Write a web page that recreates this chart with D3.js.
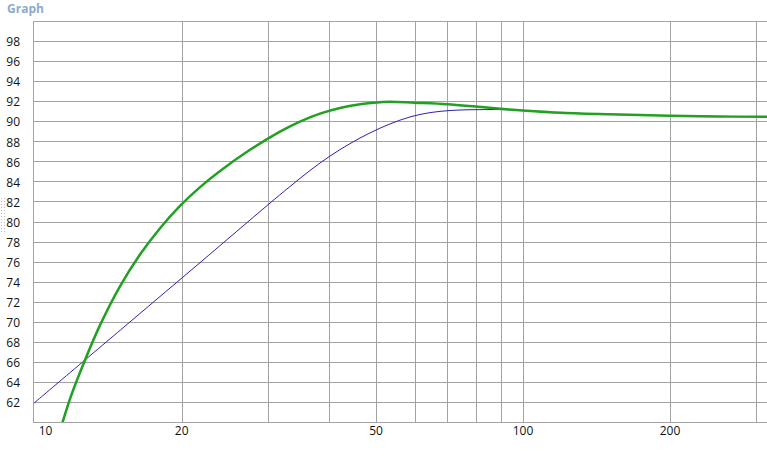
<!DOCTYPE html>
<html><head><meta charset="utf-8">
<script src="https://cdn.jsdelivr.net/npm/d3@7"></script>
<style>
html,body{margin:0;padding:0;background:#fff;overflow:hidden}
text{font-family:"Open Sans","Noto Sans",sans-serif}
</style></head>
<body>
<svg id="c" width="767" height="457"></svg>
<script>
// ---- data ----
const greenFreq = [11.2, 11.39, 11.81, 12.38, 13.60, 14.95, 16.43, 18.06, 19.84, 21.81, 23.97, 27.60, 31.79, 34.93, 38.39, 42.19, 46.37, 50.95, 53.4, 60, 70, 80, 90, 100, 120, 150, 200, 250, 316];
const greenVal  = [59.0, 60, 62.4, 65.04, 69.74, 73.64, 76.81, 79.43, 81.65, 83.53, 85.14, 87.25, 89.07, 90.07, 90.86, 91.43, 91.79, 91.99, 92.05, 91.95, 91.8, 91.57, 91.35, 91.18, 90.95, 90.79, 90.65, 90.58, 90.54];
const blueFreq  = [9.92, 15.67, 21.81, 30, 33.31, 36.63, 40.25, 44.23, 48.61, 53.40, 58.69, 64.50, 70.88, 77.89, 85.60, 94.05, 100, 120, 150, 200, 250, 316];
const blueVal   = [61.9, 70.08, 76.0, 81.74, 83.58, 85.19, 86.63, 87.87, 88.94, 89.83, 90.53, 90.96, 91.17, 91.25, 91.27, 91.24, 91.18, 90.95, 90.79, 90.65, 90.58, 90.54];
const xGrid = [20, 30, 40, 50, 60, 70, 80, 90, 100, 200, 300];
const xTickLabels = [10, 20, 50, 100, 200];
const yTicks = [62, 64, 66, 68, 70, 72, 74, 76, 78, 80, 82, 84, 86, 88, 90, 92, 94, 96, 98];
const title = "Graph";

// ---- layout ----
const svg = d3.select("#c");
const L = 33, R = 767, T = 22, B = 423;
const x = d3.scaleLog().domain([9.92, 316]).range([L, R]);
const y = d3.scaleLinear().domain([60, 100]).range([B, T]);
const grid = "#a3a3a3";

svg.append("text").attr("x", 7).attr("y", 13).attr("fill", "#8eaacb")
  .attr("font-size", 12).attr("font-weight", "bold").text(title);

// horizontal grid
svg.append("g").selectAll("line").data(yTicks.concat([100])).join("line")
  .attr("x1", L).attr("x2", R).attr("y1", d => Math.round(y(d)) - 0.5).attr("y2", d => Math.round(y(d)) - 0.5)
  .attr("stroke", grid).attr("stroke-width", 1);
// vertical grid
svg.append("g").selectAll("line").data(xGrid).join("line")
  .attr("y1", T).attr("y2", B).attr("x1", d => Math.round(x(d)) + 0.5).attr("x2", d => Math.round(x(d)) + 0.5)
  .attr("stroke", grid).attr("stroke-width", 1);
// axes frame
svg.append("line").attr("x1", L + 0.5).attr("x2", L + 0.5).attr("y1", T).attr("y2", B).attr("stroke", grid);
svg.append("line").attr("x1", L).attr("x2", R).attr("y1", B - 0.5).attr("y2", B - 0.5).attr("stroke", grid);

// y labels
svg.append("g").selectAll("text").data(yTicks).join("text")
  .attr("x", 20).attr("y", d => y(d)).attr("dy", "0.35em").attr("text-anchor", "end")
  .attr("font-size", 12).attr("fill", "#111").text(d => d);
// x labels
svg.append("g").selectAll("text").data(xTickLabels).join("text")
  .attr("x", (d, i) => i === 0 ? x(d) + 4 : x(d)).attr("y", 435)
  .attr("text-anchor", (d, i) => i === 0 ? "start" : "middle")
  .attr("font-size", 12).attr("fill", "#111").text(d => d);

// clip
svg.append("clipPath").attr("id", "clip").append("rect")
  .attr("x", L + 1).attr("y", T).attr("width", R - L).attr("height", B - T - 1);

const line = d3.line().x(d => x(d[0])).y(d => y(d[1])).curve(d3.curveCatmullRom.alpha(0.5));
const g = svg.append("g").attr("clip-path", "url(#clip)");
g.append("path").datum(blueFreq.map((f, i) => [f, blueVal[i]])).attr("d", line)
  .attr("fill", "none").attr("stroke", "#2b22b0").attr("stroke-width", 1);
g.append("path").datum(greenFreq.map((f, i) => [f, greenVal[i]])).attr("d", line)
  .attr("fill", "none").attr("stroke", "#22a022").attr("stroke-width", 2.5);

// small dotted handle at left edge
svg.append("g").selectAll("line").data([1, 4]).join("line")
  .attr("x1", d => d + 0.5).attr("x2", d => d + 0.5).attr("y1", 198).attr("y2", 232)
  .attr("stroke", "#bbb").attr("stroke-dasharray", "1,2");
</script>
</body></html>
